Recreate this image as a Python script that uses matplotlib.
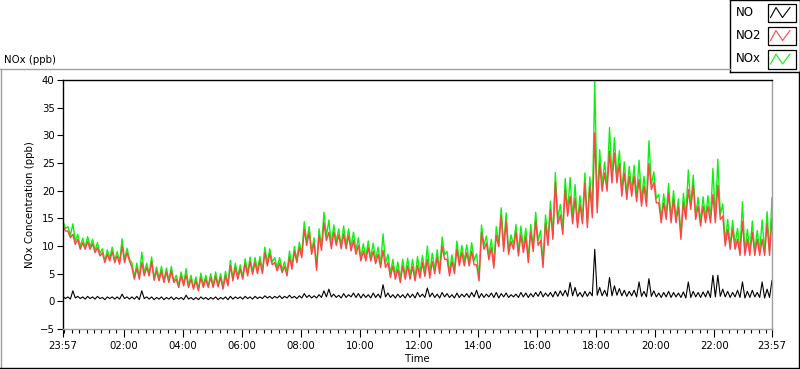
# ---------- IMPORT ------------
import datetime
import matplotlib
matplotlib.use("Agg")
import matplotlib.pyplot as plt
import matplotlib.dates as mdates
from matplotlib.lines import Line2D
from matplotlib.patches import Rectangle
# ------------------------------


# ---------- DATA --------------
# one bin every 10 minutes starting 23:57, band low/high
start = datetime.datetime(2016, 5, 18, 23, 57)
bin_minutes = 10

no2_hi = [
    13.6, 12.7, 12.1, 11.2, 10.6, 10.8, 10.4, 9.7, 8.8, 8.5,
    9.0, 8.2, 10.0, 8.8, 6.1, 6.0, 7.0, 6.1, 7.2, 5.5,
    5.5, 5.3, 5.5, 4.0, 4.6, 4.8, 4.0, 3.7, 4.3, 4.0,
    4.3, 4.5, 4.3, 4.6, 6.5, 6.1, 5.8, 6.8, 7.2, 7.0,
    7.3, 8.8, 8.6, 7.0, 6.9, 6.3, 8.0, 9.0, 9.7, 13.0,
    12.4, 10.5, 11.9, 14.2, 12.5, 12.5, 12.0, 12.2, 11.9, 11.0,
    10.1, 9.1, 9.7, 9.0, 8.5, 9.2, 7.0, 6.4, 5.8, 6.4,
    6.4, 6.3, 6.5, 7.0, 7.6, 7.2, 8.0, 10.0, 7.6, 7.2,
    9.4, 8.8, 8.8, 9.0, 6.6, 12.4, 10.5, 9.7, 11.9, 15.5,
    14.5, 10.8, 12.6, 12.0, 11.7, 12.5, 14.5, 11.0, 14.1, 16.5,
    21.5, 15.6, 20.2, 19.0, 18.6, 17.5, 21.4, 20.8, 30.4, 24.9,
    23.2, 27.1, 26.8, 24.9, 23.2, 22.6, 22.6, 22.0, 20.8, 24.9,
    21.5, 17.8, 17.8, 19.5, 18.4, 17.0, 17.8, 20.2, 21.0, 17.2,
    17.2, 17.2, 19.3, 21.0, 15.4, 13.0, 13.0, 11.2, 14.5, 11.2,
    12.5, 11.2, 11.2, 14.0, 15.0,
]
no2_lo = [
    12.7, 11.5, 10.3, 9.4, 9.4, 9.4, 8.8, 8.2, 7.0, 7.3,
    7.0, 6.7, 7.0, 7.3, 4.0, 4.0, 4.6, 4.6, 3.8, 3.7,
    3.4, 3.4, 3.4, 2.5, 2.8, 2.5, 2.2, 1.9, 2.5, 2.5,
    2.5, 2.6, 2.2, 2.8, 3.7, 4.0, 4.0, 4.6, 4.9, 5.0,
    5.0, 6.4, 6.6, 5.5, 5.2, 4.6, 5.8, 7.0, 7.9, 10.1,
    8.5, 5.6, 9.2, 11.0, 9.5, 10.1, 9.5, 9.5, 9.1, 8.5,
    7.3, 7.3, 7.3, 6.8, 6.1, 6.1, 4.3, 4.0, 3.4, 4.0,
    4.0, 3.7, 4.2, 4.5, 4.2, 5.0, 5.0, 7.6, 4.6, 5.0,
    6.4, 6.4, 6.4, 6.6, 3.7, 9.4, 7.5, 6.0, 9.9, 9.0,
    8.5, 9.4, 8.2, 8.8, 7.0, 9.0, 10.1, 6.1, 10.1, 11.2,
    14.0, 12.1, 15.4, 14.0, 13.3, 14.0, 13.3, 15.1, 16.0, 19.9,
    19.9, 21.4, 21.4, 19.0, 18.4, 19.0, 18.0, 17.2, 17.2, 20.2,
    17.8, 14.2, 14.8, 14.2, 14.2, 11.2, 14.8, 16.6, 14.8, 13.6,
    14.2, 14.2, 14.2, 14.8, 10.0, 9.4, 9.4, 8.3, 8.3, 8.3,
    8.3, 8.3, 8.3, 8.3, 8.3,
]
no_hi = [
    0.9, 0.8, 1.9, 0.9, 0.8, 0.9, 0.8, 0.9, 0.7, 0.8,
    0.8, 0.8, 1.3, 0.8, 0.8, 0.9, 1.9, 0.8, 0.8, 0.7,
    0.8, 0.7, 0.8, 0.7, 0.7, 1.1, 0.7, 0.7, 0.8, 0.7,
    0.7, 0.8, 0.7, 0.8, 0.9, 0.8, 0.8, 0.9, 0.8, 0.9,
    0.8, 1.0, 0.9, 0.9, 1.0, 0.9, 1.1, 0.9, 1.0, 1.4,
    1.1, 1.0, 1.2, 1.9, 2.2, 1.3, 1.1, 1.4, 1.2, 1.5,
    1.4, 1.3, 1.2, 1.5, 1.3, 3.0, 1.5, 1.2, 1.3, 1.2,
    1.4, 1.3, 1.6, 1.3, 2.4, 1.5, 1.3, 1.6, 1.4, 1.2,
    1.5, 1.3, 1.4, 1.6, 2.0, 1.4, 1.3, 1.5, 1.6, 1.4,
    1.5, 1.2, 1.3, 1.6, 1.5, 1.4, 1.6, 1.8, 1.5, 1.6,
    1.8, 1.9, 2.0, 3.4, 2.5, 1.6, 1.8, 1.7, 9.4, 2.5,
    2.0, 4.3, 2.8, 2.3, 2.0, 1.8, 2.0, 3.5, 1.8, 4.1,
    1.9, 1.5, 1.6, 1.8, 1.6, 1.5, 1.7, 3.5, 1.8, 1.6,
    1.7, 1.9, 4.7, 4.7, 2.2, 1.8, 1.6, 2.0, 3.5, 1.8,
    2.0, 1.6, 3.5, 2.2, 3.8,
]
no_lo = [
    0.5, 0.4, 0.6, 0.5, 0.4, 0.5, 0.4, 0.5, 0.3, 0.5,
    0.4, 0.4, 0.5, 0.4, 0.4, 0.3, 0.5, 0.4, 0.3, 0.4,
    0.3, 0.4, 0.3, 0.4, 0.3, 0.4, 0.3, 0.3, 0.4, 0.3,
    0.4, 0.3, 0.4, 0.3, 0.4, 0.5, 0.4, 0.5, 0.4, 0.5,
    0.5, 0.6, 0.5, 0.6, 0.5, 0.6, 0.6, 0.5, 0.6, 0.7,
    0.6, 0.6, 0.7, 0.8, 0.8, 0.7, 0.6, 0.7, 0.8, 0.7,
    0.6, 0.7, 0.6, 0.7, 0.6, 0.8, 0.7, 0.6, 0.7, 0.6,
    0.7, 0.6, 0.8, 0.7, 0.8, 0.7, 0.6, 0.8, 0.7, 0.6,
    0.7, 0.8, 0.7, 0.8, 0.6, 0.7, 0.8, 0.7, 0.6, 0.8,
    0.7, 0.8, 0.7, 0.8, 0.7, 0.8, 0.9, 0.8, 0.9, 0.8,
    0.9, 1.0, 0.9, 1.0, 0.9, 0.8, 0.9, 1.0, 1.1, 1.0,
    0.9, 1.0, 1.1, 1.0, 0.9, 1.0, 0.8, 0.9, 0.8, 0.9,
    0.8, 0.7, 0.8, 0.7, 0.8, 0.7, 0.6, 0.7, 0.8, 0.7,
    0.8, 0.7, 0.8, 0.9, 0.8, 0.7, 0.8, 0.7, 0.6, 0.7,
    0.8, 0.7, 0.6, 0.7, 0.8,
]

y_ticks = [-5, 0, 5, 10, 15, 20, 25, 30, 35, 40]
tick_hours = [2, 4, 6, 8, 10, 12, 14, 16, 18, 20, 22]
legend_names = ["NO", "NO2", "NOx"]
# ------------------------------


# ---------- CONFIG ------------
c_no = "#000000"
c_no2 = "#FF4444"
c_nox = "#10F010"
c_edge_light = "#A0A0A0"
font_size = 7.3
# ------------------------------


# ---------- BUILD SERIES ------
# each bin gives two samples: its high reading, then its low reading 5 min later
times = []
no2 = []
no = []
for i in range(len(no2_hi)):
    t = start + datetime.timedelta(minutes=bin_minutes * i)
    times += [t, t + datetime.timedelta(minutes=bin_minutes / 2)]
    no2 += [no2_hi[i], no2_lo[i]]
    no += [no_hi[i], no_lo[i]]
nox = [a + b for a, b in zip(no2, no)]

end = start + datetime.timedelta(days=1)
day2 = start.date() + datetime.timedelta(days=1)
major_ticks = [start] + [datetime.datetime.combine(day2, datetime.time(h, 0)) for h in tick_hours] + [end]
# ------------------------------


W, H = 800, 369
fig = plt.figure(figsize=(W / 100, H / 100), dpi=100)
fig.patch.set_facecolor("white")

# panel frame (sunken look: grey top/left, black bottom/right)
fig.add_artist(Line2D([0, 730 / W], [1 - 68.5 / H, 1 - 68.5 / H], color=c_edge_light, lw=1, transform=fig.transFigure))
fig.add_artist(Line2D([0.5 / W, 0.5 / W], [0, 1 - 68.5 / H], color=c_edge_light, lw=1, transform=fig.transFigure))
fig.add_artist(Line2D([0, 1], [0.6 / H, 0.6 / H], color="black", lw=1, transform=fig.transFigure))
fig.add_artist(Line2D([1 - 0.6 / W, 1 - 0.6 / W], [0, 1 - 72 / H], color="black", lw=1, transform=fig.transFigure))

fig.text(4 / W, 1 - 63 / H, "NOx (ppb)", fontsize=font_size, va="baseline", ha="left")

ax = fig.add_axes([63 / W, 1 - 329 / H, (772 - 63) / W, (329 - 80) / H])
ax.plot(times, nox, color=c_nox, lw=1.0)
ax.plot(times, no2, color=c_no2, lw=1.0)
ax.plot(times, no, color=c_no, lw=0.8)

ax.set_xlim(start, end)
ax.set_ylim(-5, 40)
ax.set_yticks(y_ticks)
ax.set_xticks(major_ticks)
ax.xaxis.set_major_formatter(mdates.DateFormatter("%H:%M"))
ax.xaxis.set_minor_locator(mdates.MinuteLocator(byminute=[0, 15, 30, 45]))

for s in ["left", "top"]:
    ax.spines[s].set_color("black")
    ax.spines[s].set_linewidth(1.0)
for s in ["right", "bottom"]:
    ax.spines[s].set_color(c_edge_light)
    ax.spines[s].set_linewidth(1.0)

ax.tick_params(axis="both", which="major", direction="out", width=0.8, labelsize=font_size, pad=2)
ax.tick_params(axis="y", length=4)
ax.tick_params(axis="x", which="major", length=5.5, pad=3)
ax.tick_params(axis="x", which="minor", length=3, width=0.8)

ax.set_ylabel("NOx Concentration (ppb)", fontsize=font_size)
ax.yaxis.set_label_coords(-0.04, 0.5)
ax.set_xlabel("Time", fontsize=font_size)
ax.xaxis.set_label_coords(0.5, -0.1)

# legend box in the top right corner
lg = fig.add_axes([730 / W, 1 - 72 / H, 70 / W, 72 / H])
lg.set_xlim(0, 70)
lg.set_ylim(72, 0)
lg.set_xticks([])
lg.set_yticks([])
for s in lg.spines.values():
    s.set_color("black")
    s.set_linewidth(1.0)
row_y = [12.5, 35.5, 59]
for name, col, yc in zip(legend_names, [c_no, c_no2, c_nox], row_y):
    lg.text(6, yc, name, fontsize=8.5, va="center", ha="left")
    lg.add_patch(Rectangle((38, yc - 9), 28, 18.5, fill=False, edgecolor="black", lw=0.9))
    lg.plot([40.5, 46, 52.5, 60], [yc + 5, yc - 5, yc + 5, yc - 5], color=col, lw=0.8)

plt.savefig("out.png", dpi=100)
